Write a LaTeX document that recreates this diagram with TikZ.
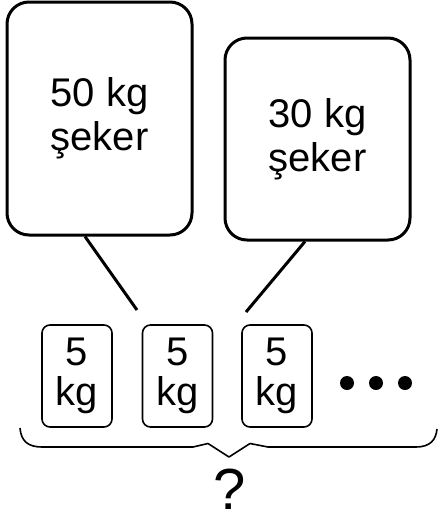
\documentclass[tikz,border=0pt]{standalone}
\usepackage{fontspec}
\setmainfont{Liberation Sans}
\begin{document}
\begin{tikzpicture}[x=1pt,y=-1pt,
  bigbox/.style={draw=black, line width=3pt, rounded corners=22pt, fill=white,
    align=center, inner sep=0pt, font=\fontsize{40}{44}\selectfont},
  smallbox/.style={draw=black, line width=1.6pt, rounded corners=8pt, fill=white,
    align=center, inner sep=0pt, minimum width=70pt, minimum height=102pt,
    font=\fontsize{40}{40}\selectfont},
  conn/.style={line width=3pt},
  dot/.style={circle, fill=black, inner sep=0pt, minimum size=14pt},
  bracepath/.style={line width=1.6pt, line join=round}]
\useasboundingbox (0,0) rectangle (438,520);
\node[bigbox, minimum width=185pt, minimum height=233pt] (b1) at (99.5,118.5) {50 kg\\şeker};
\node[bigbox, minimum width=185pt, minimum height=202pt] (b2) at (317.5,139) {30 kg\\şeker};
\node[smallbox] (s1) at (77,376) {5\\kg};
\node[smallbox] (s2) at (177.5,376) {5\\kg};
\node[smallbox] (s3) at (277,376) {5\\kg};
\coordinate (p1) at (137,310);
\coordinate (p2) at (246,312);
\draw[conn] ([xshift=-14.5pt]b1.south) -- (p1);
\draw[conn] ([xshift=-12.5pt]b2.south) -- (p2);
\node[dot] (d1) at (347,383) {};
\node[dot] (d2) at (376,383) {};
\node[dot] (d3) at (405,383) {};
\draw[bracepath] (20,428) .. controls (21,441) and (28,447) .. (42,447)
  -- (193,447) -- (208,443.5) -- (229,457) -- (250,443.5) -- (268,447)
  -- (416,447) .. controls (430,447) and (436,440) .. (437,429);
\node[font=\fontsize{58}{58}\selectfont, inner sep=0pt] (q) at (230,489) {?};
\end{tikzpicture}
\end{document}
